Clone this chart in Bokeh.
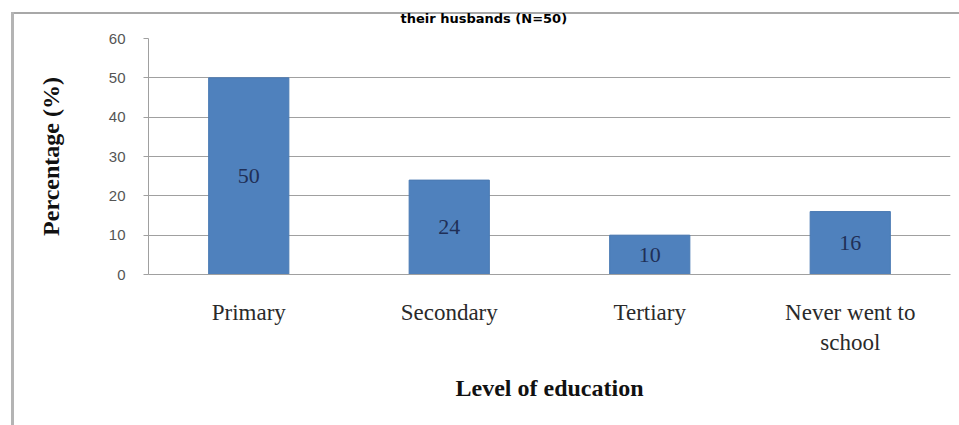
from bokeh.plotting import figure
from bokeh.models import ColumnDataSource, FactorRange, Range1d, FixedTicker
from bokeh.core.properties import value
from bokeh.embed import file_html
from bokeh.resources import INLINE

categories = ["Primary", "Secondary", "Tertiary", "Never went to\nschool"]
percentages = [50, 24, 10, 16]
y_ticks = [0, 10, 20, 30, 40, 50, 60]
title_text = "their husbands (N=50)"
x_title = "Level of education"
y_title = "Percentage (%)"

src = ColumnDataSource(dict(
    cat=categories,
    pct=percentages,
    mid=[v / 2 for v in percentages],
    lbl=[str(v) for v in percentages],
))

frame_css = {
    "background-color": "white",
    "background-image": "linear-gradient(#b4b4b4, #b4b4b4), linear-gradient(#a8a8a8, #a8a8a8)",
    "background-size": "3px 420px, 960px 2px",
    "background-position": "11px 12px, 11px 12px",
    "background-repeat": "no-repeat",
}

p = figure(
    width=959, height=425,
    x_range=FactorRange(*categories, range_padding=0),
    y_range=Range1d(0, 60),
    output_backend="svg", toolbar_location=None,
    min_border_left=148, min_border_right=9,
    min_border_top=37, min_border_bottom=151,
    background_fill_color="white", border_fill_color=None,
    styles=frame_css,
)
p.outline_line_color = None

p.title.text = title_text
p.title.align = "left"
p.title.vertical_align = "top"
p.title.offset = 252
p.title.standoff = 21
p.title.text_font = "DejaVu Sans"
p.title.text_font_style = "bold"
p.title.text_font_size = "13px"
p.title.text_color = "#000000"

p.vbar(x="cat", top="pct", width=0.4, source=src,
       fill_color="#4f81bd", line_color="#4a7ab3", line_width=1)
p.text(x="cat", y="mid", text="lbl", source=src,
       text_align="center", text_baseline="middle",
       text_font=value("Liberation Serif"), text_font_size="22px",
       text_color="#1f2f57")

# grid
p.xgrid.grid_line_color = None
p.ygrid.grid_line_color = "#a0a0a0"
p.ygrid.grid_line_width = 1
p.yaxis.ticker = FixedTicker(ticks=y_ticks)

# y axis
p.yaxis.axis_line_color = "#a0a0a0"
p.yaxis.major_tick_line_color = "#a0a0a0"
p.yaxis.major_tick_out = 5
p.yaxis.major_tick_in = 0
p.yaxis.minor_tick_line_color = None
p.yaxis.major_label_standoff = 18
p.yaxis.major_label_text_font = "Liberation Sans"
p.yaxis.major_label_text_font_size = "15px"
p.yaxis.major_label_text_color = "#555555"
p.yaxis.axis_label = y_title
p.yaxis.axis_label_text_font = "Liberation Serif"
p.yaxis.axis_label_text_font_style = "bold"
p.yaxis.axis_label_text_font_size = "24px"
p.yaxis.axis_label_text_color = "#111111"
p.yaxis.axis_label_standoff = 42

# x axis
p.xaxis.axis_line_color = "#a0a0a0"
p.xaxis.major_tick_line_color = None
p.xaxis.major_tick_out = 0
p.xaxis.major_tick_in = 0
p.xaxis.minor_tick_line_color = None
p.xaxis.major_label_standoff = 25
p.xaxis.major_label_text_font = "Liberation Serif"
p.xaxis.major_label_text_font_size = "23px"
p.xaxis.major_label_text_color = "#2a2a2a"
p.xaxis.axis_label = x_title
p.xaxis.axis_label_text_font = "Liberation Serif"
p.xaxis.axis_label_text_font_style = "bold"
p.xaxis.axis_label_text_font_size = "24px"
p.xaxis.axis_label_text_color = "#111111"
p.xaxis.axis_label_standoff = 17

open("out.html", "w").write(file_html(p, INLINE))
